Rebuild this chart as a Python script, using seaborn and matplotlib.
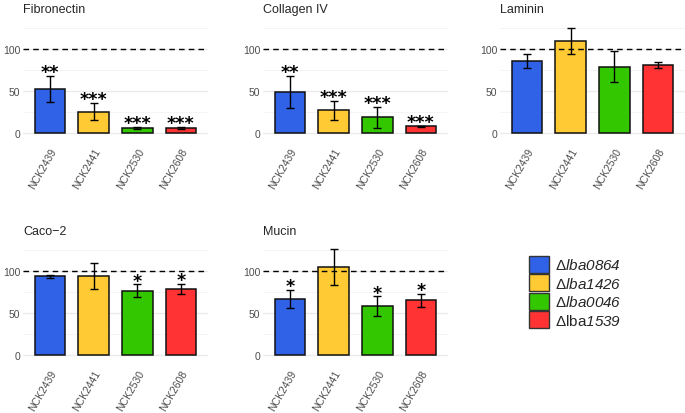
import seaborn as sns
import matplotlib.pyplot as plt
from matplotlib.patches import Patch
import pandas as pd

# Datos
strains = ["NCK2439", "NCK2441", "NCK2530", "NCK2608"]
legend_labels = [r"$\Delta\mathsf{lba0864}$", r"$\Delta\mathsf{lba1426}$",
                 r"$\Delta\mathsf{lba0046}$", r"$\Delta$lba$\mathsf{1539}$"]
colores = ["#2F62E6", "#FFCA33", "#33C700", "#FF3333"]

fibronectin_mean = [53, 25.5, 6, 6]
fibronectin_err = [15.5, 10.5, 1, 1.2]
fibronectin_sig = ["**", "***", "***", "***"]

collagen_mean = [49, 27, 19, 8]
collagen_err = [19.5, 11, 12.5, 0.5]
collagen_sig = ["**", "***", "***", "***"]

laminin_mean = [85.5, 110, 79, 80.5]
laminin_err = [8, 15.5, 18.5, 3.5]
laminin_sig = ["", "", "", ""]

caco_mean = [93.5, 94, 76.5, 78.5]
caco_err = [2, 15, 7.5, 6]
caco_sig = ["", "", "*", "*"]

mucin_mean = [66.5, 104.5, 58, 65]
mucin_err = [11, 21.5, 12, 8]
mucin_sig = ["*", "", "*", "*"]

paneles = [
    ("Fibronectin", fibronectin_mean, fibronectin_err, fibronectin_sig),
    ("Collagen IV", collagen_mean, collagen_err, collagen_sig),
    ("Laminin", laminin_mean, laminin_err, laminin_sig),
    ("Caco\u22122", caco_mean, caco_err, caco_sig),
    ("Mucin", mucin_mean, mucin_err, mucin_sig),
]

sns.set_style("white")
plt.rcParams["font.family"] = ["Liberation Sans", "DejaVu Sans"]
plt.rcParams["mathtext.fontset"] = "custom"
plt.rcParams["mathtext.rm"] = "Liberation Sans"
# italica para los nombres de genes (sf no fuerza los digitos a rm)
plt.rcParams["mathtext.sf"] = "Liberation Sans:italic"

W, H = 685, 414
fig = plt.figure(figsize=(W / 100, H / 100), dpi=100)

# posiciones de los paneles en pixeles (izq, arriba)
lefts = [23, 263, 500, 23, 263]
tops = [20, 20, 20, 242, 242]
pw, ph = 185, 120

for (titulo, medias, errs, sig), l, t in zip(paneles, lefts, tops):
    ax = fig.add_axes([l / W, 1 - (t + ph) / H, pw / W, ph / H])
    df = pd.DataFrame({"strain": strains, "valor": medias})
    ax.set_axisbelow(True)
    ax.set_yticks([25, 75, 125], minor=True)
    ax.grid(True, which="major", color="#EBEBEB", linewidth=1.0)
    ax.grid(True, which="minor", axis="y", color="#F2F2F2", linewidth=0.6)
    sns.barplot(data=df, x="strain", y="valor", hue="strain", palette=colores,
                saturation=1, edgecolor="#111111", linewidth=1.1, width=0.7,
                errorbar=None, legend=False, ax=ax, zorder=2)
    ax.errorbar(range(4), medias, yerr=errs, fmt="none", ecolor="black",
                elinewidth=1.0, capsize=3.2, capthick=1.0, zorder=3)
    ax.axhline(100, color="black", linestyle=(0, (4, 3)), linewidth=1.0, zorder=4)
    for i, s in enumerate(sig):
        if s:
            ax.text(i, medias[i] + errs[i] - 1.5, s, ha="center", va="baseline",
                    fontsize=12.5, family="DejaVu Sans", fontweight="bold",
                    color="black")
    ax.set_xlim(-0.62, 3.62)
    ax.set_ylim(-7, 135.7)
    ax.set_yticks([0, 50, 100])
    ax.set_xlabel("")
    ax.set_ylabel("")
    ax.set_title(titulo, loc="left", fontsize=9, pad=5)
    ax.tick_params(axis="both", length=0, labelsize=7.5, colors="#4D4D4D", pad=2)
    ax.tick_params(axis="x", pad=5)
    plt.setp(ax.get_xticklabels(), rotation=60, ha="right", rotation_mode="anchor")
    sns.despine(ax=ax, left=True, bottom=True)

# Leyenda
handles = [Patch(facecolor=c, edgecolor="#333333", linewidth=1.0) for c in colores]
fig.legend(handles, legend_labels, loc="upper left",
           bbox_to_anchor=(529 / W, 1 - 257 / H), frameon=False, fontsize=11,
           handlelength=1.3, handleheight=1.3, labelspacing=0.12,
           handletextpad=0.4, borderpad=0, borderaxespad=0)

fig.savefig("out.png", dpi=100)
